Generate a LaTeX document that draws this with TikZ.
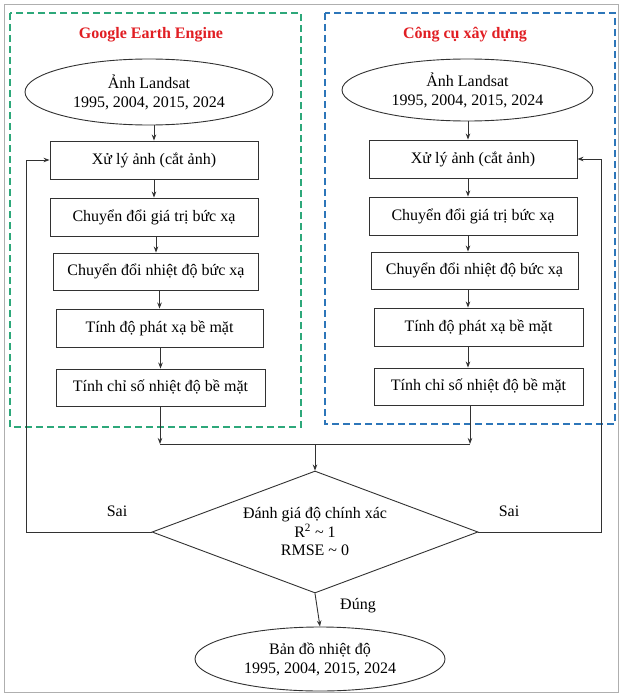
\documentclass[tikz,border=0pt]{standalone}
\usepackage{fontspec}
\setmainfont{Liberation Serif}
\usetikzlibrary{shapes.geometric,arrows.meta}
\definecolor{geegreen}{RGB}{45,168,122}
\definecolor{toolblue}{RGB}{45,118,185}
\definecolor{ttlred}{RGB}{225,30,35}
\definecolor{lncol}{RGB}{50,50,50}
\definecolor{framegray}{RGB}{175,175,175}
\begin{document}
\begin{tikzpicture}[x=1pt,y=-1pt,
  every node/.style={font=\fontsize{16}{19}\selectfont, text=black},
  procbox/.style={draw=lncol, line width=0.9pt, rectangle, minimum width=208, minimum height=38, inner sep=0},
  dataell/.style={draw=lncol, line width=0.9pt, ellipse, minimum width=250, minimum height=64, inner sep=0, align=center},
  decide/.style={draw=lncol, line width=0.9pt, diamond, aspect=2.67, minimum width=326, minimum height=122, inner sep=0, align=center, font=\fontsize{16}{18.5}\selectfont},
  grouptitle/.style={text=ttlred, font=\fontsize{16}{19}\selectfont\bfseries},
  groupbox/.style={line width=1.2pt, dash pattern=on 7pt off 4pt},
  arr/.style={draw=lncol, line width=0.9pt, -{Stealth[length=6pt,width=4.5pt]}},
  ln/.style={draw=lncol, line width=0.9pt},
  plain/.style={inner sep=0}
]
\useasboundingbox (0,0) rectangle (622,693);
\fill[white] (0,0) rectangle (622,693);
\draw[framegray, line width=1pt] (4.5,4.5) rectangle (618.5,692);

% group frames
\draw[geegreen, groupbox] (10,13) rectangle (301,427);
\draw[toolblue, groupbox] (325,13) rectangle (615,424);

\node[grouptitle] (t1) at (151,35) {Google Earth Engine};
\node[grouptitle] (t2) at (465,35) {Công cụ xây dựng};

% left column
\node[dataell, minimum width=248, minimum height=66] (le) at (149,92) {Ảnh Landsat\\1995, 2004, 2015, 2024};
\node[procbox] (l1) at (154,160) {Xử lý ảnh (cắt ảnh)};
\node[procbox] (l2) at (154,217) {Chuyển đổi giá trị bức xạ};
\node[procbox, minimum width=205, minimum height=37] (l3) at (156,271.5) {Chuyển đổi nhiệt độ bức xạ};
\node[procbox, minimum width=207] (l4) at (159.5,328) {Tính độ phát xạ bề mặt};
\node[procbox, minimum width=209, minimum height=37] (l5) at (160.5,387.5) {Tính chỉ số nhiệt độ bề mặt};

% right column
\node[dataell, minimum width=251, minimum height=62] (re) at (467.5,90) {Ảnh Landsat\\1995, 2004, 2015, 2024};
\node[procbox] (r1) at (473,159) {Xử lý ảnh (cắt ảnh)};
\node[procbox] (r2) at (473,216) {Chuyển đổi giá trị bức xạ};
\node[procbox, minimum width=207, minimum height=37] (r3) at (474.5,270.5) {Chuyển đổi nhiệt độ bức xạ};
\node[procbox, minimum width=209] (r4) at (478.5,327) {Tính độ phát xạ bề mặt};
\node[procbox, minimum width=209, minimum height=37] (r5) at (478.5,386.5) {Tính chỉ số nhiệt độ bề mặt};

% decision and result
\node[decide] (dec) at (315,532) {Đánh giá độ chính xác\\R\textsuperscript{2} \textasciitilde{} 1\\RMSE \textasciitilde{} 0};
\node[dataell, minimum width=250, minimum height=64] (out) at (320,659) {Bản đồ nhiệt độ\\1995, 2004, 2015, 2024};

\node[plain] (sai1) at (117,511) {Sai};
\node[plain] (sai2) at (509,511) {Sai};
\node[plain] (dung) at (358,606) {Đúng};

% helper coordinates
\coordinate (colR) at (468,0);
\coordinate (mL) at (160,444);
\coordinate (mR) at (470,444);
\coordinate (mC) at (315,444);
\coordinate (fbL) at (26,0);
\coordinate (fbR) at (601,0);

% left arrows
\draw[arr] (l1 |- le.south) -- (l1.north);
\draw[arr] (l1.south) -- (l1.south |- l2.north);
\draw[arr] (l2.south -| l3) -- (l3.north);
\draw[arr] (l3.south -| l4) -- (l4.north);
\draw[arr] (l4.south -| l5) -- (l5.north);

% right arrows
\draw[arr] (re.south -| colR) -- (r1.north -| colR);
\draw[arr] (r1.south -| colR) -- (r2.north -| colR);
\draw[arr] (r2.south -| colR) -- (r3.north -| colR);
\draw[arr] (r3.south -| colR) -- (r4.north -| colR);
\draw[arr] (r4.south -| colR) -- (r5.north -| colR);

% merge
\draw[arr] (l5.south -| mL) -- (mL);
\draw[arr] (r5.south -| mR) -- (mR);
\draw[ln] (mL) -- (mR);
\draw[arr] (mC) -- (dec.north);

% feedback loops
\draw[arr] (dec.west) -- (dec.west -| fbL) -- (l1.west -| fbL) -- (l1.west);
\draw[arr] (dec.east) -- (dec.east -| fbR) -- (r1.east -| fbR) -- (r1.east);

% to output
\draw[arr] (dec.south) -- (out.north);
\end{tikzpicture}
\end{document}
